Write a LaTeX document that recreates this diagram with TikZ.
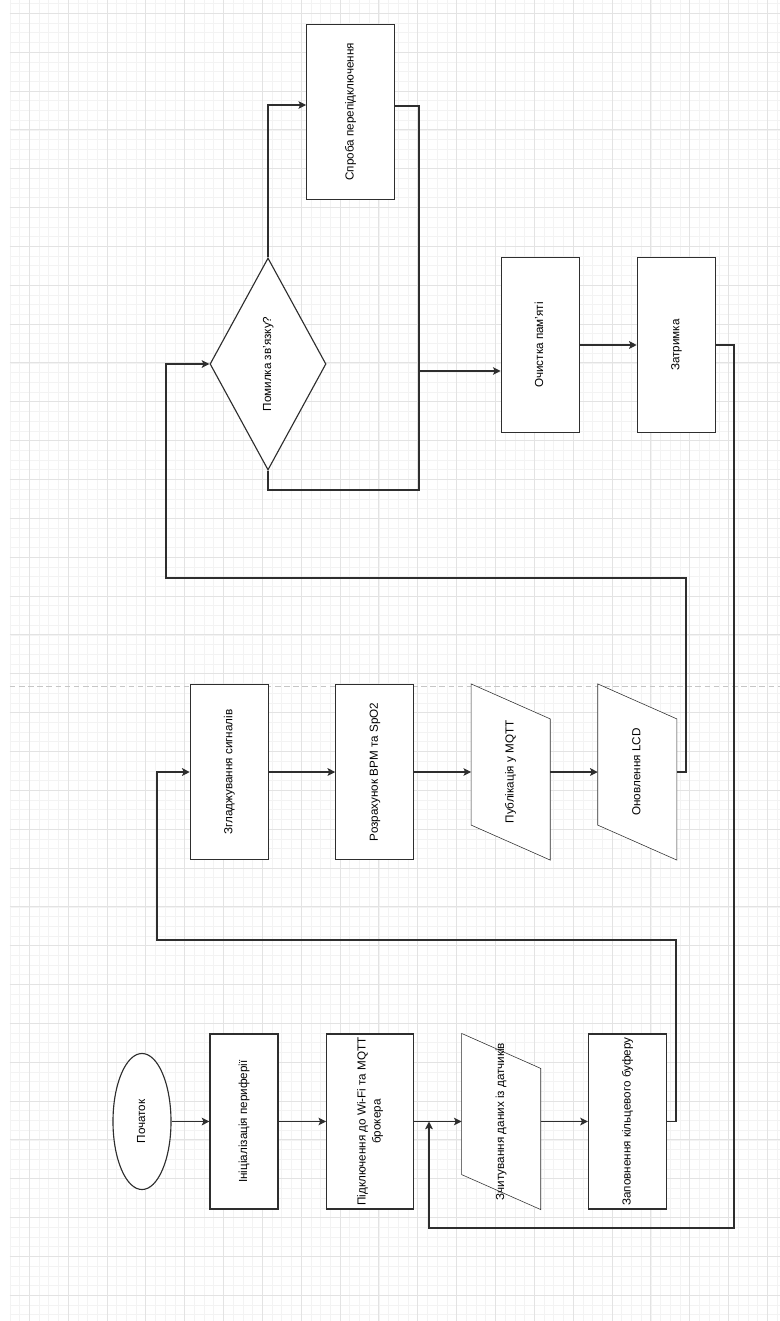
\documentclass[tikz,border=0pt]{standalone}
\usepackage{fontspec}
\setmainfont{Liberation Sans}
\usetikzlibrary{arrows.meta, shapes.geometric, calc, backgrounds}
\definecolor{cline}{HTML}{2E2E2E}
\definecolor{cgridmin}{HTML}{F3F3F3}
\definecolor{cgridmaj}{HTML}{E3E3E3}
\definecolor{cpage}{HTML}{C6C6C6}
\tikzset{
  every picture/.style={x=0.025cm, y=-0.025cm, line width=0.8pt},
  proc/.style={rectangle, draw=cline, fill=white, minimum width=#1, minimum height=4.375cm, inner sep=0pt, font=\fontsize{8.3}{10.7}\selectfont},
  proc/.default=1.95cm,
  io/.style={rectangle, minimum width=1.95cm, minimum height=4.375cm, inner sep=0pt, font=\fontsize{8.3}{10.7}\selectfont},
  term/.style={ellipse, draw=cline, fill=white, minimum width=1.45cm, minimum height=3.4cm, inner sep=0pt, font=\fontsize{8.3}{10.7}\selectfont},
  decision/.style={diamond, draw=cline, fill=white, aspect=0.5, minimum width=2.9cm, minimum height=5.3cm, inner sep=0pt, font=\fontsize{8.3}{10.7}\selectfont},
  arrow/.style={-{Stealth[length=5.5pt, width=5.5pt, inset=1.3pt]}, draw=cline},
  link/.style={draw=cline},
  gridmin/.style={draw=cgridmin, line width=0.5pt},
  gridmaj/.style={draw=cgridmaj, line width=0.7pt},
  pagebreak/.style={draw=cpage, line width=0.7pt, dash pattern=on 4pt off 2.5pt},
}
\newcommand{\vtext}[1]{\rotatebox{90}{\begin{tabular}{@{}c@{}}#1\end{tabular}}}

\begin{document}
\begin{tikzpicture}
  \useasboundingbox (0,0) rectangle (780,1321);
  \begin{scope}[on background layer]
    \fill[white] (0,0) rectangle (780,1321);
    \foreach \i in {0,...,79} \draw[gridmin] ({9.87+\i*9.7125},0) -- ++(0,1321);
    \foreach \j in {0,...,135} \draw[gridmin] (9.87,{3.59+\j*9.7125}) -- (780,{3.59+\j*9.7125});
    \foreach \i in {0,...,19} \draw[gridmaj] ({29.3+\i*38.85},0) -- ++(0,1321);
    \foreach \j in {0,...,33} \draw[gridmaj] (9.87,{13.3+\j*38.85}) -- (780,{13.3+\j*38.85});
    \draw[pagebreak] (9.87,686.6) -- (780,686.6);
  \end{scope}

  \node[term] (start) at (142,1121.5) {\vtext{Початок}};
  \node[proc=1.7cm] (init) at (244,1121.5) {\vtext{Ініціалізація периферії}};
  \node[proc=2.175cm] (wifi) at (370.2,1121.5) {\vtext{Підключення до Wi-Fi та MQTT\\брокера}};
  \node[io] (read) at (501.2,1121.5) {\vtext{Зчитування даних із датчиків}};
  \node[proc] (buffer) at (627.5,1121.5) {\vtext{Заповнення кільцевого буферу}};
  \node[proc] (smooth) at (229.3,772) {\vtext{Згладжування сигналів}};
  \node[proc] (bpm) at (374.8,772) {\vtext{Розрахунок BPM та SpO2}};
  \node[io] (mqtt) at (510.7,772) {\vtext{Публікація у MQTT}};
  \node[io] (lcd) at (637.3,772) {\vtext{Оновлення LCD}};
  \node[decision] (check) at (268,364) {\vtext{Помилка зв'язку?}};
  \node[proc=2.2cm] (retry) at (350.7,111.8) {\vtext{Спроба перепідключення}};
  \node[proc] (clean) at (540.2,345) {\vtext{Очистка пам'яті}};
  \node[proc] (delay) at (676.3,345) {\vtext{Затримка}};

  \begin{scope}[on background layer]
    \foreach \n in {read, mqtt, lcd}
      \draw[link, fill=white] (\n.north west) -- ([yshift=-0.875cm]\n.north east) -- (\n.south east) -- ([yshift=0.875cm]\n.south west) -- cycle;
  \end{scope}

  \coordinate (join) at (419,371);
  \coordinate (loopin) at (429,1121.5);

  \draw[arrow] (start) -- (init);
  \draw[arrow] (init) -- (wifi);
  \draw[arrow] (wifi) -- (read);
  \draw[arrow] (read) -- (buffer);
  \draw[arrow] (buffer.east) -| (676,940) -| (157,772) -- (smooth.west);
  \draw[arrow] (smooth) -- (bpm);
  \draw[arrow] (bpm) -- (mqtt);
  \draw[arrow] (mqtt) -- (lcd);
  \draw[arrow] (lcd.east) -| (686,578) -| (166,364) -- (check.west);
  \draw[arrow] (check.north) |- ([yshift=0.17cm]retry.west);
  \draw[link] ([yshift=0.145cm]retry.east) -| (join);
  \draw[link] (check.south) |- (419,490) -- (join);
  \draw[arrow] (join) -- (join -| clean.west);
  \draw[arrow] (clean) -- (delay);
  \draw[arrow] (delay.east) -| (734,1228) -| (loopin);
\end{tikzpicture}
\end{document}
